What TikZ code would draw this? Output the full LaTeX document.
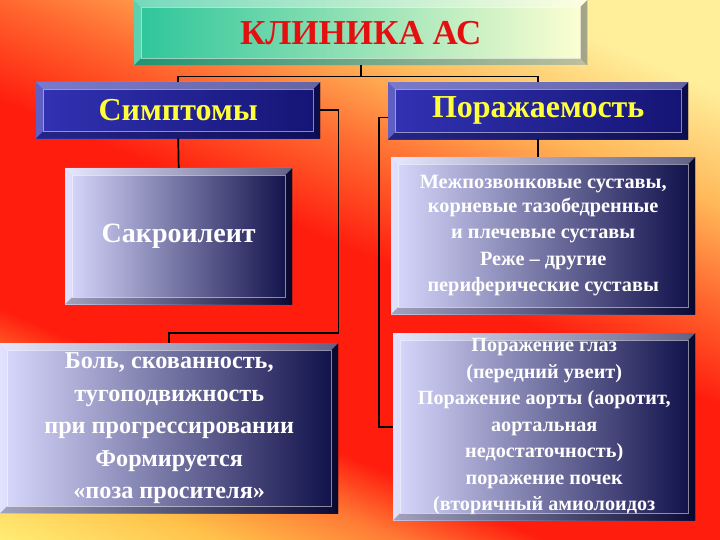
\documentclass[tikz,border=0pt]{standalone}
\usepackage{fontspec}
\setmainfont{Liberation Serif}
\usetikzlibrary{calc}
\definecolor{bgA}{HTML}{FFF27A}
\definecolor{bgB}{HTML}{FFC24A}
\definecolor{bgC}{HTML}{FF7A35}
\definecolor{bgD}{HTML}{FF1E0E}
\definecolor{bgE}{HTML}{FF6A30}
\definecolor{bgF}{HTML}{FFB85A}
\definecolor{bgG}{HTML}{FFEE9A}
\definecolor{teal1}{HTML}{2CC59A}
\definecolor{cream}{HTML}{FFFFD2}
\definecolor{blueL}{HTML}{3232B4}
\definecolor{blueR}{HTML}{141474}
\definecolor{lavL}{HTML}{DADAFF}
\definecolor{navyR}{HTML}{0E0E48}
\definecolor{titred}{HTML}{E41010}
\definecolor{yel}{HTML}{FFFF3C}
\pgfdeclareverticalshading{bgsh}{100bp}{color(0bp)=(bgA); color(25bp)=(bgA); color(31bp)=(bgB); color(35.5bp)=(bgC); color(39bp)=(bgD); color(51bp)=(bgD); color(57bp)=(bgE); color(62.5bp)=(bgF); color(69bp)=(bgG); color(75bp)=(bgG); color(100bp)=(bgG)}
\newcommand\bevelbox[2]{%
  \fill[white,opacity=0.35] (#1.north west) -- (#1.north east) -- ([shift={(-#2,#2)}]#1.north east) -- ([shift={(#2,#2)}]#1.north west) -- cycle;
  \fill[white,opacity=0.22] (#1.north west) -- ([shift={(#2,#2)}]#1.north west) -- ([shift={(#2,-#2)}]#1.south west) -- (#1.south west) -- cycle;
  \fill[black,opacity=0.25] (#1.south west) -- (#1.south east) -- ([shift={(-#2,-#2)}]#1.south east) -- ([shift={(#2,-#2)}]#1.south west) -- cycle;
  \fill[black,opacity=0.35] (#1.north east) -- (#1.south east) -- ([shift={(-#2,-#2)}]#1.south east) -- ([shift={(-#2,#2)}]#1.north east) -- cycle;
  \draw[white,opacity=0.5,line width=0.6pt] ([shift={(#2,#2)}]#1.north west) rectangle ([shift={(-#2,-#2)}]#1.south east);
}
\tikzset{
  box/.style={anchor=north west, inner sep=0pt, align=center},
  fs/.style 2 args={font=\bfseries\fontsize{#1}{#2}\selectfont},
  titlebox/.style={box, left color=teal1, right color=cream, text=titred},
  bluebox/.style={box, left color=blueL, right color=blueR, text=yel},
  lavbox/.style={box, left color=lavL, right color=navyR, text=white},
  conn/.style={draw=black, line width=1.7pt}
}
\begin{document}
\begin{tikzpicture}[x=1pt,y=-1pt]
\useasboundingbox (0,0) rectangle (720,540);
\begin{scope}
\clip (0,0) rectangle (720,540);
\shade[shading=bgsh, transform canvas={rotate around={-23:(360,270)}}] (-140,-130) rectangle (860,670);
\end{scope}

\node[titlebox, fs={35}{40}, minimum width=453pt, minimum height=65pt] (title) at (134,0) {КЛИНИКА АС};
\node[bluebox, fs={32}{36}, minimum width=284pt, minimum height=56pt] (symp) at (36,82) {Симптомы};
\node[bluebox, fs={32}{36}, minimum width=300pt, minimum height=57pt] (por) at (388,82) {\raisebox{-4pt}{Поражаемость}};
\node[lavbox, fs={28}{30}, minimum width=227pt, minimum height=136pt] (sak) at (65,168) {Сакроилеит};
\node[lavbox, fs={20.3}{26.5}, minimum width=304pt, minimum height=157pt] (mezh) at (391,157) {\raisebox{-3pt}{Межпозвонковые суставы,}\\ корневые тазобедренные\\ и плечевые суставы\\ Реже – другие\\ периферические суставы};
\node[lavbox, fs={24.2}{32.5}, minimum width=338pt, minimum height=170pt] (bol) at (0,343) {Боль, скованность,\\ тугоподвижность\\ при прогрессировании\\ Формируется\\ «поза просителя»};
\node[lavbox, fs={20.2}{26.5}, minimum width=302pt, minimum height=187pt] (glaz) at (393,333) {Поражение глаз\\ (передний увеит)\\ Поражение аорты (аоротит,\\ аортальная\\ недостаточность)\\ поражение почек\\ (вторичный амиолоидоз};

\bevelbox{title}{7}
\bevelbox{symp}{7}
\bevelbox{por}{7}
\bevelbox{sak}{7}
\bevelbox{mezh}{7}
\bevelbox{bol}{7}
\bevelbox{glaz}{7}

\coordinate (hub) at ($(title.south)+(0,11)$);
\draw[conn] (title.south) -- (hub);
\draw[conn] (hub) -| (symp.north);
\draw[conn] (hub) -| (por.north);
\draw[conn] (symp.south) -- (sak.north);
\draw[conn] (por.south) -- (por.south |- mezh.north);
\coordinate (sr) at ($(symp.east)+(18,0)$);
\coordinate (bk) at ($(bol.north)+(0,-10)$);
\draw[conn] (symp.east) -- (sr) |- (bk) -- (bol.north);
\coordinate (pl) at ($(por.south west)+(0,-22)$);
\coordinate (pk) at ($(pl)+(-9,0)$);
\draw[conn] (pl) -- (pk) |- (glaz.west);
\end{tikzpicture}
\end{document}
